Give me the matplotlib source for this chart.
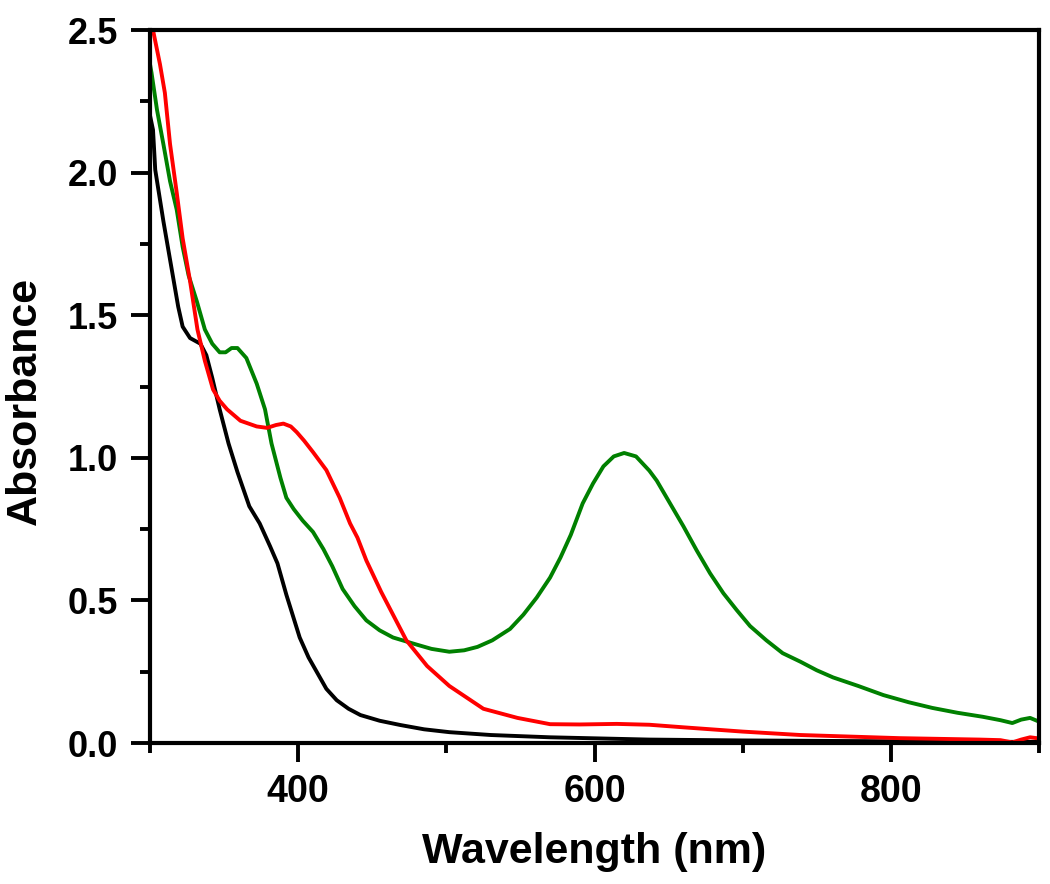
import matplotlib
matplotlib.use("Agg")
import matplotlib.pyplot as plt
from matplotlib.ticker import MultipleLocator, FormatStrFormatter

# black curve
wl_black = [300, 302, 303.5, 309, 315, 319, 322, 327, 334, 338, 342, 347, 353, 359, 367,
            374, 381, 386, 392, 401, 407, 413, 419, 426, 434, 442, 455, 469, 485, 502,
            530, 570, 637, 700, 800, 880, 900]
abs_black = [2.20, 2.15, 2.01, 1.83, 1.65, 1.53, 1.46, 1.42, 1.40, 1.36, 1.28, 1.17, 1.05, 0.95, 0.83,
             0.77, 0.69, 0.63, 0.52, 0.37, 0.30, 0.245, 0.19, 0.15, 0.12, 0.098, 0.078, 0.063, 0.048, 0.038,
             0.028, 0.020, 0.012, 0.009, 0.006, 0.004, 0.004]

# red curve
wl_red = [300, 302, 306.7, 310, 313.5, 318, 322, 327, 332, 337, 342.5, 347, 352, 361, 372,
          379, 385, 390, 395, 399, 404, 410, 419, 428, 435, 440, 446, 456, 473, 487,
          502, 525, 548, 570, 590, 615, 637, 660, 700, 739, 806, 860, 874, 882, 888,
          894, 900]
abs_red = [2.58, 2.50, 2.38, 2.28, 2.10, 1.93, 1.77, 1.62, 1.45, 1.34, 1.24, 1.20, 1.17, 1.13, 1.11,
           1.105, 1.115, 1.12, 1.11, 1.09, 1.06, 1.02, 0.957, 0.86, 0.77, 0.72, 0.64, 0.53, 0.36, 0.27,
           0.20, 0.12, 0.088, 0.066, 0.065, 0.067, 0.064, 0.055, 0.040, 0.028, 0.017, 0.012, 0.010, 0.002, 0.012,
           0.020, 0.016]

# green curve
wl_green = [300, 301, 304.7, 309, 313.5, 318, 322, 326, 331.5, 337, 342, 347, 351, 355, 359,
            365, 372, 377.6, 382, 388, 392, 397, 403, 410, 417, 423, 430, 438, 446, 455,
            464, 480, 490, 502, 512, 521, 531, 543, 552, 561, 570, 577, 584, 592, 599,
            606, 613, 620, 628, 637, 642, 651, 660, 669, 678, 687, 696, 705, 716, 727,
            739, 750, 761, 778, 795, 812, 828, 845, 862, 874, 882, 888, 894, 900]
abs_green = [2.38, 2.35, 2.22, 2.10, 1.97, 1.87, 1.74, 1.64, 1.55, 1.45, 1.40, 1.37, 1.37, 1.385, 1.385,
             1.35, 1.26, 1.17, 1.05, 0.93, 0.86, 0.82, 0.78, 0.74, 0.68, 0.62, 0.54, 0.48, 0.43, 0.395,
             0.37, 0.345, 0.33, 0.32, 0.325, 0.337, 0.36, 0.40, 0.45, 0.51, 0.58, 0.65, 0.73, 0.84, 0.91,
             0.97, 1.005, 1.017, 1.005, 0.955, 0.92, 0.84, 0.76, 0.675, 0.595, 0.525, 0.466, 0.41, 0.36, 0.315,
             0.285, 0.255, 0.23, 0.20, 0.168, 0.143, 0.123, 0.106, 0.092, 0.080, 0.070, 0.082, 0.088, 0.075]

plt.rcParams["font.family"] = ["Liberation Sans", "DejaVu Sans"]
plt.rcParams["font.weight"] = "bold"

fig = plt.figure(figsize=(10.5, 8.84), dpi=100)
ax = fig.add_axes([0.1429, 0.1595, 0.8466, 0.8065])

lw = 2.8
for wl, ab, col in [(wl_black, abs_black, "black"),
                    (wl_green, abs_green, "#008000"),
                    (wl_red, abs_red, "#ff0000")]:
    ax.plot(wl, ab, color=col, lw=lw, solid_joinstyle="round", solid_capstyle="round")

ax.set_xlim(300, 900)
ax.set_ylim(0, 2.5)
ax.xaxis.set_major_locator(MultipleLocator(200))
ax.xaxis.set_minor_locator(MultipleLocator(100))
ax.yaxis.set_major_locator(MultipleLocator(0.5))
ax.yaxis.set_minor_locator(MultipleLocator(0.25))
ax.yaxis.set_major_formatter(FormatStrFormatter("%.1f"))

for s in ax.spines.values():
    s.set_linewidth(3)
ax.tick_params(which="major", direction="out", length=14, width=2.8)
ax.tick_params(which="minor", direction="out", length=7.5, width=2.8)
ax.tick_params(axis="y", labelsize=26, pad=9)
ax.tick_params(axis="x", labelsize=27, pad=8)

ax.set_xlabel("Wavelength (nm)", fontsize=31, fontweight="bold", labelpad=16)
ax.set_ylabel("Absorbance", fontsize=31, fontweight="bold", labelpad=14)
ax.yaxis.set_label_coords(-0.118, 0.48)

fig.savefig("out.png", dpi=100)
